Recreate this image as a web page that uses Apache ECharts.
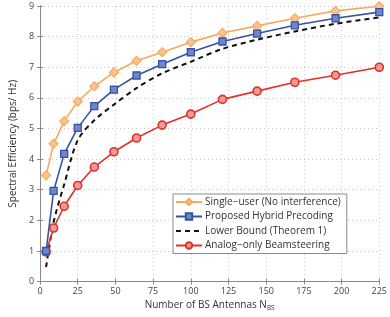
<!DOCTYPE html>
<html><head><meta charset="utf-8">
<script src="https://cdn.jsdelivr.net/npm/echarts@6/dist/echarts.min.js"></script>
<style>html,body{margin:0;padding:0;background:#fff}#c{width:390px;height:317px}</style>
</head><body><div id="c"></div>
<script>
const antennas = [4, 9, 16, 25, 36, 49, 64, 81, 100, 121, 144, 169, 196, 225];
const singleUser = [3.47, 4.5, 5.24, 5.88, 6.38, 6.83, 7.21, 7.49, 7.82, 8.12, 8.35, 8.6, 8.84, 8.99];
const hybrid = [1.0, 2.96, 4.17, 5.02, 5.73, 6.27, 6.73, 7.1, 7.49, 7.84, 8.1, 8.37, 8.6, 8.8];
const lowerBound = [0.47, 1.94, 3.17, 4.62, 5.27, 5.78, 6.32, 6.8, 7.18, 7.6, 7.9, 8.17, 8.42, 8.63];
const analog = [0.97, 1.75, 2.46, 3.14, 3.74, 4.24, 4.69, 5.11, 5.47, 5.95, 6.22, 6.51, 6.74, 7.0];
const xTicks = [0, 25, 50, 75, 100, 125, 150, 175, 200, 225];
const yTicks = [0, 1, 2, 3, 4, 5, 6, 7, 8, 9];
const names = ['Single\u2212user (No interference)', 'Proposed Hybrid Precoding', 'Lower Bound (Theorem 1)', 'Analog\u2212only Beamsteering'];

const pair = arr => antennas.map((n, i) => [n, arr[i]]);
const FONT = 'Open Sans';
const chart = echarts.init(document.getElementById('c'));
const axisCommon = {
  axisLine: {show: true, lineStyle: {color: '#8a8a8a', width: 1}},
  axisTick: {show: true, inside: true, length: 3, lineStyle: {color: '#8a8a8a'}},
};
chart.setOption({
  animation: false,
  textStyle: {fontFamily: FONT},
  grid: {left: 25, right: 9, top: 6, bottom: 32, show: false},
  legend: {
    orient: 'vertical', left: 173, top: 194, width: 176,
    itemWidth: 26, itemHeight: 8, itemGap: 4.5,
    padding: [3, 6, 3, 2],
    backgroundColor: '#fff', borderColor: '#8a8a8a', borderWidth: 1,
    textStyle: {fontFamily: FONT, fontSize: 10, color: '#333', padding: [0, 0, 0, -2]},
    data: [names[0], names[1], {name: names[2], itemStyle: {opacity: 0}}, names[3]]
  },
  xAxis: [{
    type: 'value', min: 0, max: 225, interval: 25, position: 'bottom',
    ...axisCommon,
    axisLabel: {fontSize: 9, color: '#444', margin: 5, formatter: v => xTicks.includes(v) ? String(v) : ''},
    splitLine: {show: true, lineStyle: {color: '#c8c8c8', type: [1, 3]}},
    name: '{a|Number of BS Antennas N}{b|BS}', nameLocation: 'middle', nameGap: 17,
    nameTextStyle: {rich: {a: {fontSize: 10, color: '#333', fontFamily: FONT}, b: {fontSize: 6.5, color: '#333', fontFamily: FONT, verticalAlign: 'bottom', padding: [6, 0, 0, 0]}}}
  }, {
    type: 'value', min: 0, max: 225, interval: 25, position: 'top',
    ...axisCommon, axisLabel: {show: false}, splitLine: {show: false}
  }],
  yAxis: [{
    type: 'value', min: 0, max: 9, interval: 1, position: 'left',
    ...axisCommon,
    axisLabel: {fontSize: 9, color: '#444', margin: 6, formatter: v => yTicks.includes(v) ? String(v) : ''},
    splitLine: {show: true, lineStyle: {color: '#c8c8c8', type: [1, 3]}},
    name: 'Spectral Efficiency (bps/ Hz)', nameLocation: 'middle', nameGap: 14,
    nameTextStyle: {fontSize: 10, color: '#333', fontFamily: FONT}
  }, {
    type: 'value', min: 0, max: 9, interval: 1, position: 'right',
    ...axisCommon, axisLabel: {show: false}, splitLine: {show: false}
  }],
  series: [
    {name: names[0], type: 'line', data: pair(singleUser), symbol: 'diamond', symbolSize: 9,
      lineStyle: {color: '#f9a95c', width: 1.6}, itemStyle: {color: '#fcc58e', borderColor: '#f9a95c', borderWidth: 1.2}, z: 4},
    {name: names[1], type: 'line', data: pair(hybrid), symbol: 'rect', symbolSize: 7,
      lineStyle: {color: '#3552a8', width: 1.6}, itemStyle: {color: '#6f86c8', borderColor: '#3552a8', borderWidth: 1.3}, z: 5},
    {name: names[2], type: 'line', data: pair(lowerBound), symbol: 'none', smooth: 0.3,
      lineStyle: {color: '#111', width: 2, type: [5, 4]}, itemStyle: {color: '#111'}, z: 3},
    {name: names[3], type: 'line', data: pair(analog), symbol: 'circle', symbolSize: 8,
      lineStyle: {color: '#e0302c', width: 1.6}, itemStyle: {color: '#f29a92', borderColor: '#e0302c', borderWidth: 1.6}, z: 4}
  ]
});
</script></body></html>
